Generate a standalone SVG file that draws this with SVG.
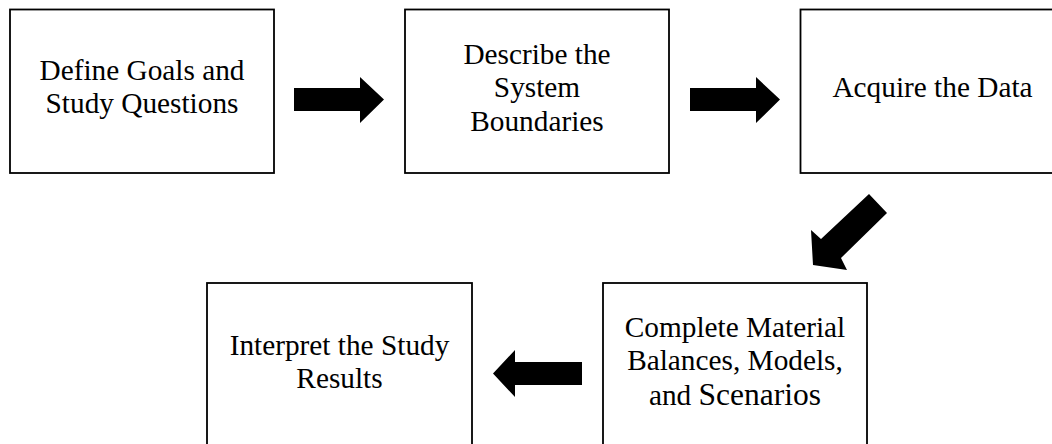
<svg xmlns="http://www.w3.org/2000/svg" width="1052" height="444" viewBox="0 0 1052 444">
<style>
.box{fill:#fff;stroke:#000;stroke-width:1.8}
.lbl{font-family:"Liberation Serif","Times New Roman",serif;font-size:29.3px;fill:#000;text-anchor:middle}
.arr{fill:#000}
</style>
<rect width="1052" height="444" fill="#fff"/>
<g id="n1"><rect class="box" x="10" y="9.5" width="264" height="163.5"/>
<text class="lbl" x="142" y="80">Define Goals and</text>
<text class="lbl" x="142" y="113">Study Questions</text></g>
<g id="n2"><rect class="box" x="405" y="9.5" width="264" height="163.5"/>
<text class="lbl" x="537" y="64">Describe the</text>
<text class="lbl" x="537" y="97">System</text>
<text class="lbl" x="537" y="131">Boundaries</text></g>
<g id="n3"><rect class="box" x="800.5" y="9.5" width="264" height="163.5"/>
<text class="lbl" x="932.5" y="97">Acquire the Data</text></g>
<g id="n4"><rect class="box" x="207" y="283" width="265" height="180"/>
<text class="lbl" x="339.5" y="355">Interpret the Study</text>
<text class="lbl" x="339.5" y="388">Results</text></g>
<g id="n5"><rect class="box" x="603" y="283" width="264" height="180"/>
<text class="lbl" x="735" y="337">Complete Material</text>
<text class="lbl" x="735" y="370">Balances, Models,</text>
<text class="lbl" x="735" y="405">and <tspan font-size="31.5px">Scenarios</tspan></text></g>
<g id="connectors">
<polygon class="arr" points="294,88 360,88 360,77 384,99.5 360,123 360,111 294,111"/>
<polygon class="arr" points="690,88 756,88 756,77 780,99.5 756,123 756,111 690,111"/>
<polygon class="arr" points="869,194 887,213 841,258 847,270 813,265 811,230 821,239"/>
<polygon class="arr" points="582,362 515,362 515,350 493,373.5 515,397 515,385 582,385"/>
</g>
</svg>
